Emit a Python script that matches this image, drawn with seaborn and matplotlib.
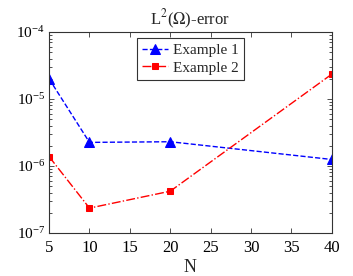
import numpy as np
import matplotlib
matplotlib.use('Agg')
import matplotlib.pyplot as plt
import seaborn as sns
import pandas as pd

N = [5, 10, 20, 40]
example1 = [2.0e-5, 2.25e-6, 2.3e-6, 1.25e-6]
example2 = [1.38e-6, 2.35e-7, 4.2e-7, 2.35e-5]

sns.set_style('ticks')
plt.rcParams['font.family'] = ['Liberation Serif', 'DejaVu Serif']
plt.rcParams['mathtext.fontset'] = 'stix'
plt.rcParams['xtick.direction'] = 'in'
plt.rcParams['ytick.direction'] = 'in'

df = pd.DataFrame({'N': N * 2,
                   'err': example1 + example2,
                   'case': ['Example 1'] * 4 + ['Example 2'] * 4})

fig, ax = plt.subplots(figsize=(3.53, 2.76), dpi=100)
fig.subplots_adjust(left=0.139, right=0.94, top=0.884, bottom=0.156)

sns.lineplot(data=df[df.case == 'Example 1'], x='N', y='err', ax=ax,
             color='blue', linestyle='--', marker='^', markersize=7,
             markeredgecolor='blue', linewidth=1, label='Example 1')
sns.lineplot(data=df[df.case == 'Example 2'], x='N', y='err', ax=ax,
             color='red', linestyle='-.', marker='s', markersize=5,
             markeredgecolor='red', linewidth=1, label='Example 2')

ax.set_yscale('log')
ax.set_ylim(1e-7, 1e-4)
ax.set_xlim(5, 40)
ax.set_xticks([5, 10, 15, 20, 25, 30, 35, 40])
ax.tick_params(which='both', top=True, right=True, width=0.6, colors='#333333',
               labelcolor='black')
ax.tick_params(axis='x', labelsize=12, pad=5)
ax.tick_params(axis='y', labelsize=11, pad=3)
ax.tick_params(which='major', length=3.5)
ax.tick_params(which='minor', length=2)
for s in ax.spines.values():
    s.set_linewidth(0.8)
    s.set_color('#333333')

ax.set_xlabel('N', fontsize=13, labelpad=2)
ax.set_ylabel('')
ax.set_title(r'L$^2$($\Omega$)-error', fontsize=12, pad=5)

leg = ax.legend(loc='upper center', fontsize=11, frameon=True, fancybox=False,
                edgecolor='#333333', framealpha=1, handlelength=1.7,
                borderpad=0.35, labelspacing=0.25, handletextpad=0.3,
                borderaxespad=0.4, bbox_to_anchor=(0.5, 1.0))
leg.get_frame().set_linewidth(0.8)

fig.savefig('out.png', dpi=100)
